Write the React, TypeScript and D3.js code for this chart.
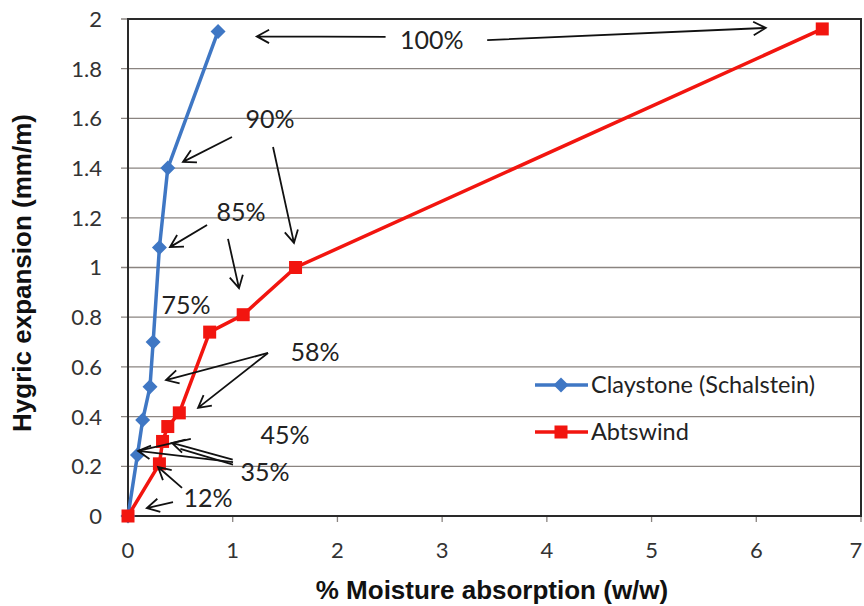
import React from "react";
import * as d3 from "d3";

const claystoneX = [0, 0.09, 0.14, 0.21, 0.24, 0.3, 0.38, 0.86];
const claystoneY = [0, 0.245, 0.386, 0.52, 0.7, 1.08, 1.4, 1.95];
const abtswindX = [0, 0.3, 0.33, 0.38, 0.49, 0.78, 1.1, 1.6, 6.63];
const abtswindY = [0, 0.21, 0.3, 0.36, 0.415, 0.74, 0.81, 1.0, 1.96];

const xTicks = [0, 1, 2, 3, 4, 5, 6, 7];
const yTicks = [0, 0.2, 0.4, 0.6, 0.8, 1, 1.2, 1.4, 1.6, 1.8, 2];
const yTickLabels = ["0", "0.2", "0.4", "0.6", "0.8", "1", "1.2", "1.4", "1.6", "1.8", "2"];

const seriesNames = ["Claystone (Schalstein)", "Abtswind"];

// annotation labels (data coordinates)
const labelTexts = ["100%", "90%", "85%", "75%", "58%", "45%", "35%", "12%"];
const labelX = [2.9, 1.356, 1.079, 0.554, 1.786, 1.5, 1.309, 0.764];
const labelY = [1.915, 1.598, 1.223, 0.849, 0.66, 0.326, 0.177, 0.072];

// arrows: [x1, y1, x2, y2, head]
const arrows: [number, number, number, number, number][] = [
  [2.46, 1.928, 1.23, 1.93, 1],
  [3.43, 1.915, 6.09, 1.964, 1],
  [0.993, 1.525, 0.525, 1.425, 1],
  [1.385, 1.485, 1.585, 1.099, 1],
  [0.755, 1.171, 0.401, 1.082, 1],
  [0.955, 1.115, 1.06, 0.917, 1],
  [1.337, 0.656, 0.363, 0.547, 1],
  [1.337, 0.656, 0.669, 0.435, 1],
  [1.003, 0.217, 0.096, 0.262, 1],
  [0.6, 0.31, 0.096, 0.262, 0],
  [1.0, 0.227, 0.42, 0.294, 1],
  [1.003, 0.207, 0.5, 0.27, 0],
  [0.516, 0.113, 0.287, 0.197, 1],
  [0.43, 0.056, 0.18, 0.032, 1],
];

const W = 864;
const H = 606;
const M = { left: 128, right: 861, top: 19, bottom: 516 };

export default function App() {
  const x = d3.scaleLinear().domain([0, 7]).range([M.left, M.right]);
  const y = d3.scaleLinear().domain([0, 2]).range([M.bottom, M.top]);
  const line = d3
    .line<[number, number]>()
    .x((d) => x(d[0]))
    .y((d) => y(d[1]));
  const blue = "#3f77c4";
  const red = "#f2150f";
  const cData: [number, number][] = claystoneX.map((v, i) => [v, claystoneY[i]]);
  const aData: [number, number][] = abtswindX.map((v, i) => [v, abtswindY[i]]);
  const diamond = (cx: number, cy: number, r: number) =>
    `M${cx},${cy - r}L${cx + r},${cy}L${cx},${cy + r}L${cx - r},${cy}Z`;

  const arrowPath = (a: [number, number, number, number, number]) => {
    const x1 = x(a[0]), y1 = y(a[1]), x2 = x(a[2]), y2 = y(a[3]);
    let p = `M${x1},${y1}L${x2},${y2}`;
    if (a[4]) {
      const ang = Math.atan2(y2 - y1, x2 - x1);
      const L = 14;
      const s = 0.5;
      const hx1 = x2 - L * Math.cos(ang - s);
      const hy1 = y2 - L * Math.sin(ang - s);
      const hx2 = x2 - L * Math.cos(ang + s);
      const hy2 = y2 - L * Math.sin(ang + s);
      p += `M${hx1},${hy1}L${x2},${y2}L${hx2},${hy2}`;
    }
    return p;
  };

  const tickFont = "Lato, 'Open Sans', sans-serif";
  return (
    <svg
      width={W}
      height={H}
      style={{ position: "absolute", left: 0, top: 0, background: "#fff" }}
    >
      <rect x={0} y={0} width={W} height={H} fill="#fff" />
      {yTicks.map((t) => (
        <line
          key={"g" + t}
          x1={M.left - 7}
          x2={M.right}
          y1={y(t)}
          y2={y(t)}
          stroke="#8a8480"
          strokeWidth={1.3}
        />
      ))}
      {xTicks.map((t) => (
        <line
          key={"xt" + t}
          x1={x(t)}
          x2={x(t)}
          y1={M.bottom}
          y2={M.bottom + 6}
          stroke="#8a8480"
          strokeWidth={1.3}
        />
      ))}
      <rect
        x={M.left}
        y={M.top}
        width={M.right - M.left}
        height={M.bottom - M.top}
        fill="none"
        stroke="#2a2a2a"
        strokeWidth={2}
      />
      {yTicks.map((t, i) => (
        <text
          key={"yl" + t}
          x={102}
          y={y(t)}
          dy="0.36em"
          textAnchor="end"
          fontFamily={tickFont}
          fontSize={22}
          fill="#333"
        >
          {yTickLabels[i]}
        </text>
      ))}
      {xTicks.map((t) => (
        <text
          key={"xl" + t}
          x={Math.min(x(t), 856)}
          y={550}
          dy="0.36em"
          textAnchor="middle"
          fontFamily={tickFont}
          fontSize={22}
          fill="#333"
        >
          {t}
        </text>
      ))}
      <text
        x={492}
        y={599}
        textAnchor="middle"
        fontFamily="'Liberation Sans', Arial, sans-serif"
        fontWeight="bold"
        fontSize={26}
        fill="#111"
      >
        % Moisture absorption (w/w)
      </text>
      <text
        transform={`translate(31,273) rotate(-90)`}
        textAnchor="middle"
        fontFamily="'Liberation Sans', Arial, sans-serif"
        fontWeight="bold"
        fontSize={26}
        fill="#111"
      >
        Hygric expansion (mm/m)
      </text>
      <path d={line(cData) || ""} fill="none" stroke={blue} strokeWidth={3.5} />
      {cData.map((d, i) => (
        <path key={"cd" + i} d={diamond(x(d[0]), y(d[1]), 7.5)} fill={blue} />
      ))}
      <path d={line(aData) || ""} fill="none" stroke={red} strokeWidth={3.5} />
      {aData.map((d, i) => (
        <rect
          key={"ad" + i}
          x={x(d[0]) - 6.5}
          y={y(d[1]) - 6.5}
          width={13}
          height={13}
          fill={red}
        />
      ))}
      {arrows.map((a, i) => (
        <path
          key={"ar" + i}
          d={arrowPath(a)}
          fill="none"
          stroke="#111"
          strokeWidth={1.8}
        />
      ))}
      {labelTexts.map((t, i) => (
        <text
          key={"lb" + i}
          x={x(labelX[i])}
          y={y(labelY[i])}
          dy="0.36em"
          textAnchor="middle"
          fontFamily={tickFont}
          fontSize={25}
          fill="#222"
        >
          {t}
        </text>
      ))}
      {[0, 1].map((i) => {
        const ly = i === 0 ? 385 : 432;
        const col = i === 0 ? blue : red;
        return (
          <g key={"lg" + i}>
            <line x1={535} x2={588} y1={ly} y2={ly} stroke={col} strokeWidth={3.5} />
            {i === 0 ? (
              <path d={diamond(561, ly, 7.5)} fill={col} />
            ) : (
              <rect x={554.5} y={ly - 6.5} width={13} height={13} fill={col} />
            )}
            <text
              x={591}
              y={ly}
              dy="0.36em"
              fontFamily={tickFont}
              fontSize={23.5}
              fill="#222"
            >
              {seriesNames[i]}
            </text>
          </g>
        );
      })}
    </svg>
  );
}
